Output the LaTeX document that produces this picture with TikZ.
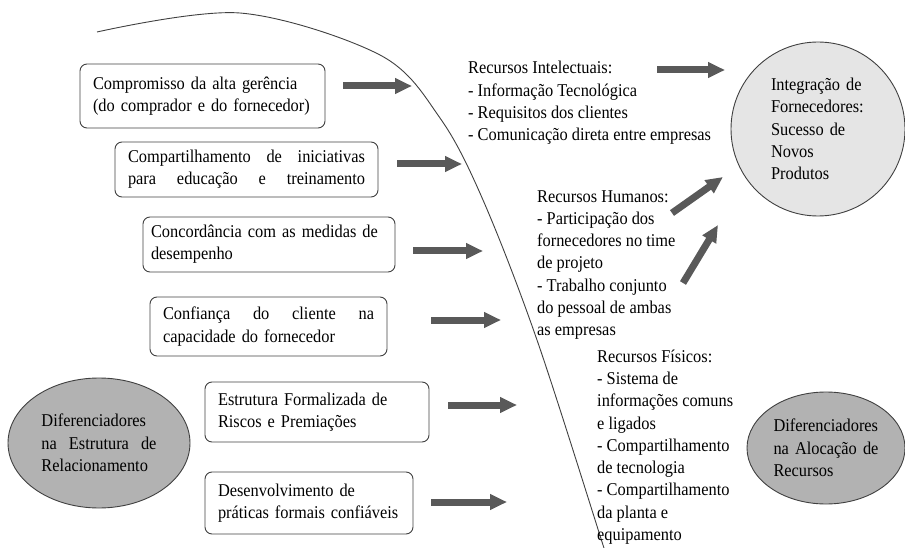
\documentclass[tikz,border=0pt]{standalone}
\usepackage{fontspec}
\setmainfont[FakeStretch=0.91]{Liberation Serif}
\usetikzlibrary{shapes.geometric,arrows.meta}

\newcommand\spreadline[1]{\leavevmode\hbox to \hsize{#1}}

\tikzset{
  box/.style={draw=black!75, rounded corners=7pt, line width=0.9pt, inner xsep=13pt, inner ysep=0pt, align=left},
  bigarrow/.style={line width=7pt, draw=black!65, -{Triangle[length=17pt,width=15pt]}},
  shapeline/.style={draw=black!75, line width=0.9pt},
  plain/.style={align=left, anchor=west, inner sep=0pt},
}

\begin{document}
\begin{tikzpicture}[x=1pt, y=-1pt, font=\fontsize{18}{22.3}\selectfont]
  \useasboundingbox (0,0) rectangle (905,548);
  \draw[shapeline] plot[smooth, tension=0.55] coordinates {(97,32) (240,13) (380,55) (440,118) (483,200) (537,340) (603,545) (606,556)};

  % caixas da esquerda
  \node[box, text width=237pt, minimum height=55pt] (iniciativas) at (246.5,169.5) {\spreadline{Compartilhamento\hfill de\hfill iniciativas}\\\spreadline{para\hfill educação\hfill e\hfill treinamento}};
  \node[box, text width=219pt, minimum height=64pt] (compromisso) at (202.5,96) {Compromisso da alta gerência\\(do comprador e do fornecedor)};
  \node[box, text width=236pt, inner xsep=8pt, minimum height=55pt] (medidas) at (269,244.5) {Concordância com as medidas de\\desempenho};
  \node[box, text width=211pt, minimum height=59pt] (confianca) at (268.5,326.5) {\spreadline{Confiança\hfill do\hfill cliente\hfill na}\\capacidade do fornecedor};
  \node[box, text width=198pt, minimum height=60pt] (riscos) at (317,412) {Estrutura Formalizada de\\Riscos e Premiações};
  \node[box, text width=182pt, minimum height=62pt] (praticas) at (309,503) {Desenvolvimento de\\práticas formais confiáveis};

  \node[ellipse, shapeline, fill=black!30, text width=115pt, align=left, minimum width=182pt, minimum height=130pt, inner sep=0pt] (estrutura) at (99,443) {Diferenciadores\\\spreadline{na\hfill Estrutura\hfill de}\\Relacionamento};
  \node[ellipse, shapeline, fill=black!30, text width=105pt, align=left, minimum width=158pt, minimum height=112pt, inner sep=0pt] (alocacao) at (826,448) {Diferenciadores\\\spreadline{na\hfill Alocação\hfill de}\\Recursos};
  \node[circle, shapeline, fill=black!10, text width=94pt, align=left, minimum size=174pt, inner sep=0pt] (integracao) at (818,129) {Integração de\\Fornecedores:\\Sucesso de\\Novos\\Produtos};

  % recursos
  \node[plain] (intelectuais) at (468,103) {Recursos Intelectuais:\\- Informação Tecnológica\\- Requisitos dos clientes\\- Comunicação direta entre empresas};
  \node[plain] (humanos) at (537,265) {Recursos Humanos:\\- Participação dos\\fornecedores no time\\de projeto\\- Trabalho conjunto\\do pessoal de ambas\\as empresas};
  \node[plain] (fisicos) at (597,447) {Recursos Físicos:\\- Sistema de\\informações comuns\\e ligados\\- Compartilhamento\\de tecnologia\\- Compartilhamento\\da planta e\\equipamento};

  % setas
  \coordinate (from1) at (343,86);  \coordinate (to1) at (412,86);
  \coordinate (from2) at (397,164); \coordinate (to2) at (462,164);
  \coordinate (from3) at (413,251); \coordinate (to3) at (483,251);
  \coordinate (from4) at (431,320); \coordinate (to4) at (501,320);
  \coordinate (from5) at (448,405); \coordinate (to5) at (517,405);
  \coordinate (from6) at (431,502); \coordinate (to6) at (507,502);
  \coordinate (from7) at (657,70);  \coordinate (to7) at (725,70);
  \coordinate (from8) at (672,213); \coordinate (to8) at (723,177);
  \coordinate (from9) at (683,283); \coordinate (to9) at (718,225);
  \foreach \n in {1,...,9}
    \draw[bigarrow] (from\n) -- (to\n);
\end{tikzpicture}
\end{document}
